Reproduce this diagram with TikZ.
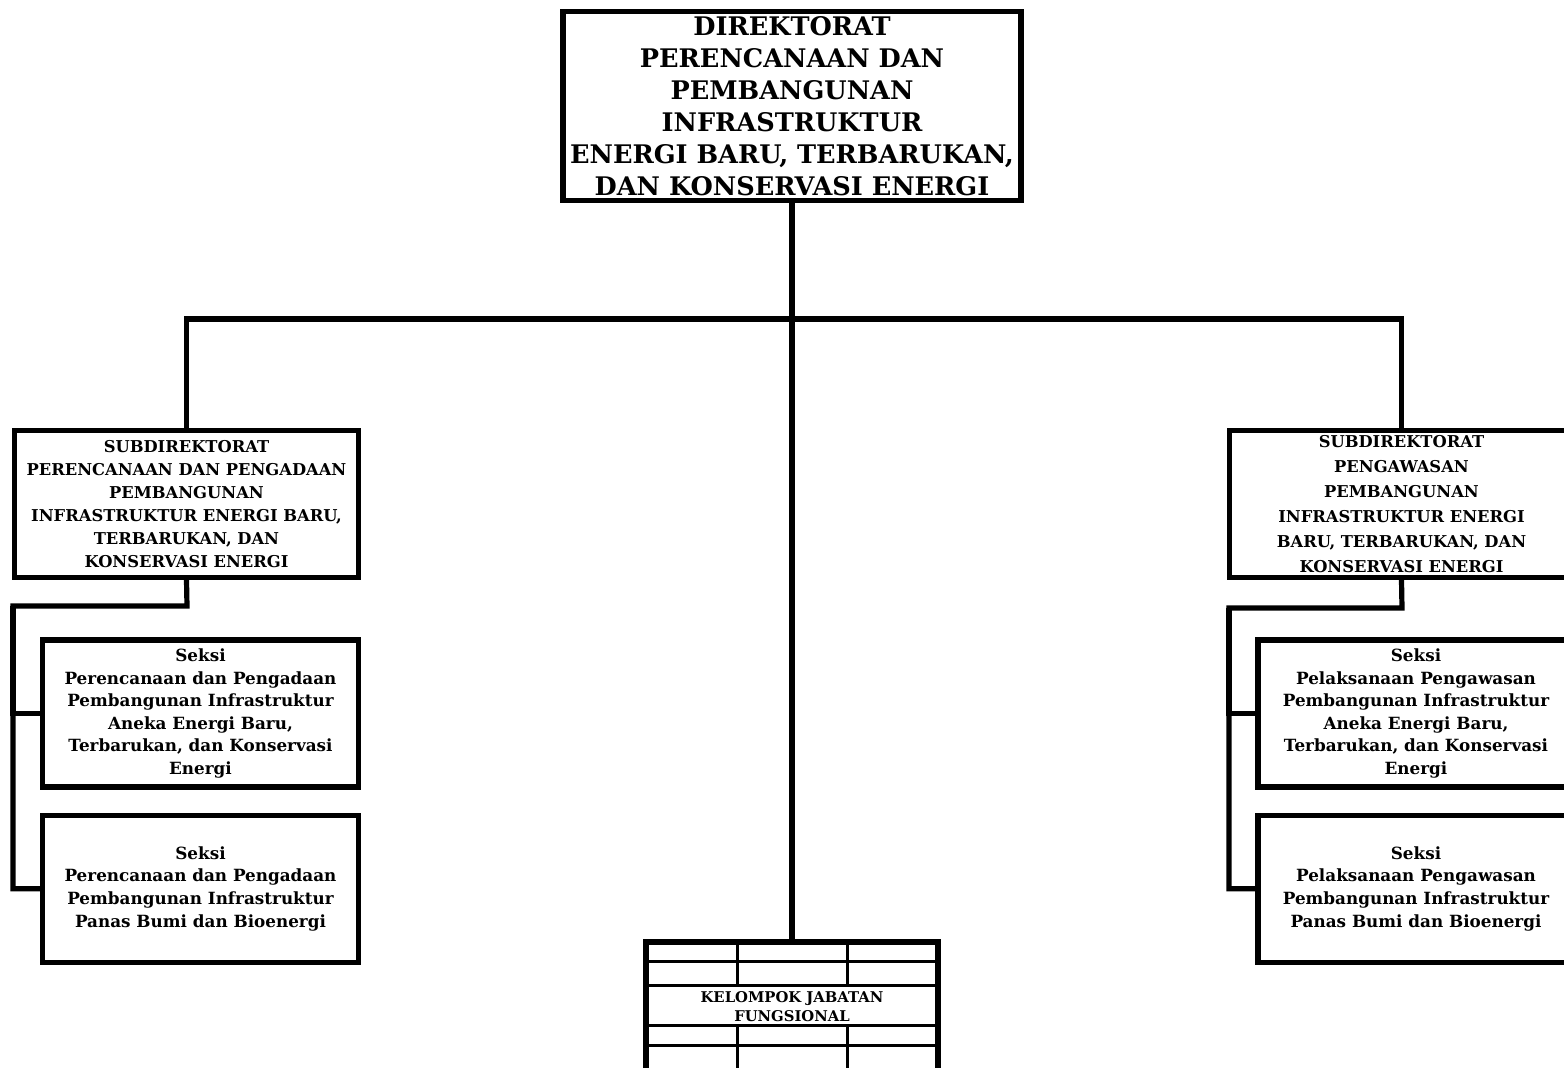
\documentclass[tikz,border=0pt]{standalone}
\usepackage{fontspec}
\setmainfont{DejaVu Serif}
\usetikzlibrary{positioning}
\tikzset{
  box/.style      = {draw, rectangle, line width=2.6pt, align=center,
                     inner sep=0pt},
  dirbox/.style   = {box, minimum width=229pt, minimum height=94.5pt,
                     font=\bfseries\fontsize{12.8}{16}\selectfont},
  subbox/.style   = {box, minimum width=172pt, minimum height=73.5pt,
                     font=\bfseries\fontsize{8.15}{11.5}\selectfont},
  seksibox/.style = {box, minimum width=158pt, minimum height=73.5pt,
                     font=\bfseries\fontsize{8.4}{11.3}\selectfont},
  tabbox/.style   = {box, minimum width=146pt, minimum height=65pt,
                     font=\bfseries\fontsize{7.4}{9.5}\selectfont},
  link/.style     = {line width=2.6pt},
  cell/.style     = {line width=1.5pt},
}
\begin{document}
\begin{tikzpicture}[x=0.5pt, y=-0.5pt]
\useasboundingbox (0,0) rectangle (1564,1068);
\clip (0,0) rectangle (1564,1068);

\node[dirbox] (dir) at (792,106) {DIREKTORAT\\ PERENCANAAN DAN\\ PEMBANGUNAN\\ INFRASTRUKTUR\\
  ENERGI BARU, TERBARUKAN,\\ DAN KONSERVASI ENERGI};

\node[subbox] (subplan) at (186.5,504) {SUBDIREKTORAT\\ PERENCANAAN DAN PENGADAAN\\ PEMBANGUNAN\\
  INFRASTRUKTUR ENERGI BARU,\\ TERBARUKAN, DAN\\ KONSERVASI ENERGI};
\node[subbox, font=\bfseries\fontsize{8.15}{12.5}\selectfont] (subawas) at (1401.5,504)
  {SUBDIREKTORAT\\ PENGAWASAN\\ PEMBANGUNAN\\ INFRASTRUKTUR ENERGI\\ BARU, TERBARUKAN, DAN\\ KONSERVASI ENERGI};

\node[seksibox] (plananeka) at (200.5,713.5) {Seksi\\ Perencanaan dan Pengadaan\\ Pembangunan Infrastruktur\\
  Aneka Energi Baru,\\ Terbarukan, dan Konservasi\\ Energi};
\node[seksibox, below=11.5pt of plananeka] (planpanas) {Seksi\\ Perencanaan dan Pengadaan\\
  Pembangunan Infrastruktur\\ Panas Bumi dan Bioenergi};

\node[seksibox] (awasaneka) at (1416,713.5) {Seksi\\ Pelaksanaan Pengawasan\\ Pembangunan Infrastruktur\\
  Aneka Energi Baru,\\ Terbarukan, dan Konservasi\\ Energi};
\node[seksibox, below=11.5pt of awasaneka] (awaspanas) {Seksi\\ Pelaksanaan Pengawasan\\
  Pembangunan Infrastruktur\\ Panas Bumi dan Bioenergi};

\node[tabbox] (kjf) at (792,1007) {KELOMPOK JABATAN\\ FUNGSIONAL};
\foreach \y in {961,985,1025,1045}
  \draw[cell] (kjf.west |- 0,\y) -- (kjf.east |- 0,\y);
\foreach \x in {737,847}{
  \draw[cell] (\x,940) -- (\x,985);
  \draw[cell] (\x,1025) -- (\x,1074);
}

\coordinate (bus) at (792,319);
\coordinate (lbend) at (187,606);
\coordinate (lrail) at (13,606);
\coordinate (rbend) at (1402,608);
\coordinate (rrail) at (1229,608);

\draw[link] (dir.south) -- (kjf.north);
\draw[link] (subplan.north) |- (bus) -| (subawas.north);
\draw[link] (subplan.south) -- (lbend) -- (lrail) |- (planpanas.west);
\draw[link] (lrail) |- (plananeka.west);
\draw[link] (subawas.south) -- (rbend) -- (rrail) |- (awaspanas.west);
\draw[link] (rrail) |- (awasaneka.west);
\end{tikzpicture}
\end{document}
